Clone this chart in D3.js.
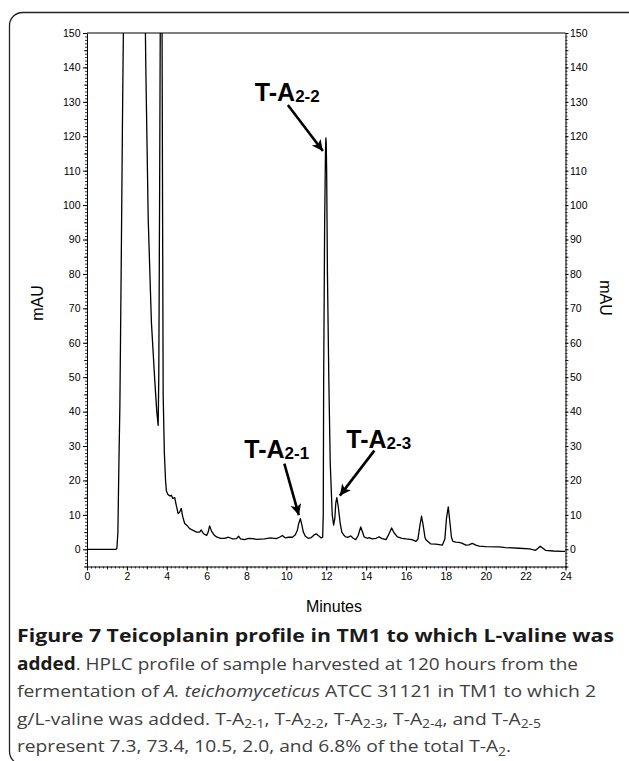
<!DOCTYPE html>
<html><head><meta charset="utf-8">
<script src="https://cdn.jsdelivr.net/npm/d3@7"></script>
<style>body{margin:0;background:#fff}svg{display:block}</style>
</head><body><svg id="c" width="629" height="761"></svg>
<script>
// ---- data ----
const times = [0,1.45,1.5,1.55,1.6,1.65,1.72,1.78,1.85,2.9,2.95,3.07,3.23,3.4,3.5,3.57,3.6,3.64,3.68,3.76,3.79,3.82,3.88,3.94,3.98,4.05,4.15,4.23,4.3,4.4,4.47,4.57,4.65,4.73,4.8,4.9,5.0,5.15,5.32,5.5,5.65,5.73,5.85,6.0,6.08,6.15,6.25,6.4,6.5,6.7,6.9,7.1,7.3,7.5,7.6,7.7,7.9,8.1,8.3,8.5,8.9,9.2,9.5,9.65,9.8,9.95,10.1,10.3,10.45,10.55,10.62,10.7,10.78,10.85,10.95,11.1,11.25,11.4,11.5,11.6,11.75,11.82,11.85,11.87,11.92,11.96,11.98,12.0,12.02,12.06,12.13,12.2,12.3,12.37,12.43,12.48,12.53,12.6,12.7,12.78,12.9,12.98,13.1,13.23,13.35,13.48,13.6,13.73,13.82,13.9,14.05,14.15,14.3,14.5,14.65,14.8,15.0,15.15,15.28,15.4,15.57,15.8,16.0,16.3,16.5,16.6,16.7,16.78,16.86,16.95,17.0,17.23,17.5,17.82,17.95,18.03,18.12,18.2,18.28,18.35,18.5,18.65,18.8,19.0,19.15,19.33,19.5,19.67,20.0,20.67,21.0,21.67,22.2,22.5,22.62,22.73,22.85,23.0,23.4,23.83,24];
const mAU = [0,0,0.3,5,25,42,85,125,165,165,140,96,66,49,40,36,50,100,160,160,100,45,28,20,17,16,15.5,15.7,14.8,15,13,10.4,10.8,11.9,9.5,7.5,7,6,5.5,5,5,5.6,4.5,4,5,6.8,5.2,4,3.6,3.2,3.2,3.5,3,3.1,3.8,3,2.8,3.2,3.1,2.9,3,3.3,3.1,3.5,4,3.3,3.5,3.5,4.2,5.5,7.5,8.9,7,5,3.8,3.2,3.4,4.2,4.5,4,3.3,3.5,10,49,95,115,119.5,118,110,80,49,25,10,7,9,13.5,15,12.5,7.5,5,4,3.6,3.5,3.9,3.2,2.8,4,6.5,5,3.6,3.2,3.4,3,3.2,3.6,3.1,2.8,4.5,6.2,4.8,3.6,3.2,3,2.8,2.3,3,7,9.6,7,3.5,2.8,1.6,1.5,1.2,3,9,12.3,8,3.5,2.3,2.1,2,1.8,1.2,1.3,1.7,1.2,0.9,0.8,0.7,0.5,0.3,0.1,-0.3,0.3,0.9,0.4,-0.3,-0.5,-0.6,-0.6];
const xTicks = [0,2,4,6,8,10,12,14,16,18,20,22,24];
const yTicks = [0,10,20,30,40,50,60,70,80,90,100,110,120,130,140,150];
const peakNames = ["2-1","2-2","2-3"];
const peakTimes = [10.7, 11.98, 12.53];
const peakValues = [8.9, 119.5, 15];
const xTitle = "Minutes", yTitle = "mAU";

const svg = d3.select("#c");
const FONT = "'Liberation Sans', Arial, sans-serif";
const x = d3.scaleLinear().domain([0,24]).range([87,565.5]);
const y = d3.scaleLinear().domain([-5,150]).range([566.5,33]);

// frame
svg.append("rect").attr("x",9.5).attr("y",12.5).attr("width",640).attr("height",752)
  .attr("rx",13).attr("fill","none").attr("stroke","#222").attr("stroke-width",1.3);

// clip
const defs = svg.append("defs");
defs.append("clipPath").attr("id","pc").append("rect")
  .attr("x",x(0)).attr("y",y(150)).attr("width",x(24)-x(0)).attr("height",y(-5)-y(150));

function styleAxis(g, fs){
  g.selectAll("path,line").attr("stroke","#000").attr("stroke-width",1);
  g.selectAll("text").attr("font-family",FONT).attr("font-size",fs).attr("fill","#000");
}
const yMinor = d3.range(-5,151,1), yMid = d3.range(-5,151,5).filter(v=>v%10!==0);
const xMinor = d3.range(0,24.001,0.2).map(v=>+v.toFixed(2)), xMid = d3.range(1,24,2);
function minor(axisFn, pos, vals, size, transform){
  const g = svg.append("g").attr("transform",transform)
    .call(axisFn(pos).tickValues(vals).tickSize(size).tickFormat(""));
  g.select(".domain").remove();
  g.selectAll("line").attr("stroke","#000").attr("stroke-width",0.8);
}
minor(d3.axisLeft, y, yMinor, 2, `translate(${x(0)},0)`);
minor(d3.axisLeft, y, yMid, 3, `translate(${x(0)},0)`);
minor(d3.axisRight, y, yMinor, 2, `translate(${x(24)},0)`);
minor(d3.axisRight, y, yMid, 3, `translate(${x(24)},0)`);
minor(d3.axisBottom, x, xMinor, 2, `translate(0,${y(-5)})`);
minor(d3.axisBottom, x, xMid, 3, `translate(0,${y(-5)})`);

const gl = svg.append("g").attr("transform",`translate(${x(0)},0)`)
  .call(d3.axisLeft(y).tickValues(yTicks).tickSize(4).tickPadding(2.5).tickSizeOuter(0));
styleAxis(gl, 10.5);
const gr = svg.append("g").attr("transform",`translate(${x(24)},0)`)
  .call(d3.axisRight(y).tickValues(yTicks).tickSize(3).tickPadding(1.5).tickSizeOuter(0));
styleAxis(gr, 10.5);
const gb = svg.append("g").attr("transform",`translate(0,${y(-5)})`)
  .call(d3.axisBottom(x).tickValues(xTicks).tickSize(4).tickPadding(2.5).tickSizeOuter(0));
styleAxis(gb, 10.5);
svg.append("line").attr("x1",x(0)).attr("x2",x(24)).attr("y1",y(150)).attr("y2",y(150))
  .attr("stroke","#000").attr("stroke-width",1);

// trace
const pts = times.map((t,i)=>[t,mAU[i]]);
svg.append("path").datum(pts).attr("clip-path","url(#pc)")
  .attr("d", d3.line().x(d=>x(d[0])).y(d=>y(d[1])))
  .attr("fill","none").attr("stroke","#000").attr("stroke-width",1.3).attr("stroke-linejoin","round");

// axis titles
svg.append("text").attr("x",334).attr("y",612).attr("text-anchor","middle")
  .attr("font-family",FONT).attr("font-size",16).text(xTitle);
svg.append("text").attr("transform","translate(43.3,303) rotate(-90)").attr("text-anchor","middle")
  .attr("font-family",FONT).attr("font-size",16).text(yTitle);
svg.append("text").attr("transform","translate(600,298) rotate(90)").attr("text-anchor","middle")
  .attr("font-family",FONT).attr("font-size",16).text(yTitle);

// annotations
const layout = [
  {lx:-56, ly:-61, tail:[-16,-55], tip:[-1.5,-3.5]},
  {lx:-71, ly:-36.5, tail:[-38,-33], tip:[-3,13]},
  {lx:9.5, ly:-50, tail:[37.5,-47], tip:[3,-2]}
];
defs.append("marker").attr("id","ah").attr("viewBox","0 0 10 10").attr("refX",10).attr("refY",5)
  .attr("markerUnits","userSpaceOnUse").attr("markerWidth",17).attr("markerHeight",11).attr("orient","auto")
  .append("path").attr("d","M0,0L10,5L0,10L2.5,5Z").attr("fill","#000");
peakNames.forEach((nm,i)=>{
  const px = x(peakTimes[i]), py = y(peakValues[i]), L = layout[i];
  const t = svg.append("text").attr("x",px+L.lx).attr("y",py+L.ly).attr("font-family",FONT)
    .attr("font-weight","bold").attr("fill","#000");
  t.append("tspan").attr("font-size",25).text("T-A");
  t.append("tspan").attr("font-size",17).attr("dy",1).text(nm);
  svg.append("line").attr("x1",px+L.tail[0]).attr("y1",py+L.tail[1])
    .attr("x2",px+L.tip[0]).attr("y2",py+L.tip[1])
    .attr("stroke","#000").attr("stroke-width",2.6).attr("marker-end","url(#ah)");
});

// caption
const CF = "'Open Sans', sans-serif";
const capLines = [
  [["Figure 7 Teicoplanin profile in TM1 to which L-valine was","b"]],
  [["added","b"],[". HPLC profile of sample harvested at 120 hours from the",""]],
  [["fermentation of ",""],["A. teichomyceticus","i"],[" ATCC 31121 in TM1 to which 2",""]],
  [["g/L-valine was added. T-A",""],["2-1","s"],[", T-A",""],["2-2","s"],[", T-A",""],["2-3","s"],[", T-A",""],["2-4","s"],[", and T-A",""],["2-5","s"]],
  [["represent 7.3, 73.4, 10.5, 2.0, and 6.8% of the total T-A",""],["2","s"],[".",""]]
];
const baseY = [642,669.5,697,724.5,752];
const targetW = [597,561,579,524,null];
const fs = 17, SUB = 3.5;
const texts = capLines.map((ln,i)=>{
  const t = svg.append("text").attr("x",17).attr("y",baseY[i]).attr("font-family",CF).attr("font-size",fs);
  let shifted = false;
  ln.forEach(([s,f])=>{
    const sp = t.append("tspan").text(s).attr("fill", f==="b"?"#1a1a1a":"#404040");
    if(f==="b") sp.attr("font-weight","bold");
    if(f==="i") sp.attr("font-style","italic");
    if(f==="s"){ sp.attr("font-size",fs*0.72).attr("dy",SUB); shifted=true; }
    else if(shifted){ sp.attr("dy",-SUB); shifted=false; }
  });
  return t;
});
const nat = texts.map(t=>t.node().getComputedTextLength());
const ratio = d3.mean([1,2,3].map(i=>targetW[i]/nat[i]));
texts.forEach((t,i)=>{
  const tw = targetW[i] || nat[i]*ratio;
  t.attr("textLength",tw).attr("lengthAdjust","spacingAndGlyphs");
});
</script></body></html>
